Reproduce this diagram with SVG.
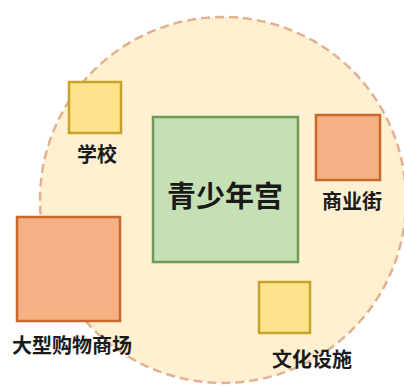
<svg xmlns="http://www.w3.org/2000/svg" width="404" height="387" viewBox="0 0 404 387">
<style>
.lbl{font-family:"Noto Sans CJK SC","Noto Sans",sans-serif;font-weight:700;fill:#1a1a1a;text-anchor:middle;dominant-baseline:central}
.s{font-size:20px}
.yel{fill:#FFE38C;stroke:#C9A22A;stroke-width:2.5}
.org{fill:#F4B183;stroke:#C9682C;stroke-width:2.5}
.grn{fill:#C5E0B4;stroke:#6E9B55;stroke-width:2.5}
</style>
<rect width="404" height="387" fill="#ffffff"/>
<g id="area">
<circle cx="223" cy="200" r="183" fill="#FFF0D2" stroke="#E2B190" stroke-width="2.5" stroke-dasharray="9 5"/>
</g>
<g id="connectors"></g>
<g id="youth-palace">
<rect class="grn" x="153" y="117" width="145" height="145"/>
<text class="lbl" x="225" y="194" font-size="29">青少年宫</text>
</g>
<g id="school">
<rect class="yel" x="69" y="82" width="52" height="51"/>
<text class="lbl s" x="97" y="153">学校</text>
</g>
<g id="commercial-street">
<rect class="org" x="316" y="115" width="64" height="65"/>
<text class="lbl s" x="352" y="200">商业街</text>
</g>
<g id="mall">
<rect class="org" x="17" y="217" width="103" height="104"/>
<text class="lbl s" x="72" y="344">大型购物商场</text>
</g>
<g id="culture">
<rect class="yel" x="259" y="282" width="51" height="51"/>
<text class="lbl s" x="312" y="358">文化设施</text>
</g>
</svg>
